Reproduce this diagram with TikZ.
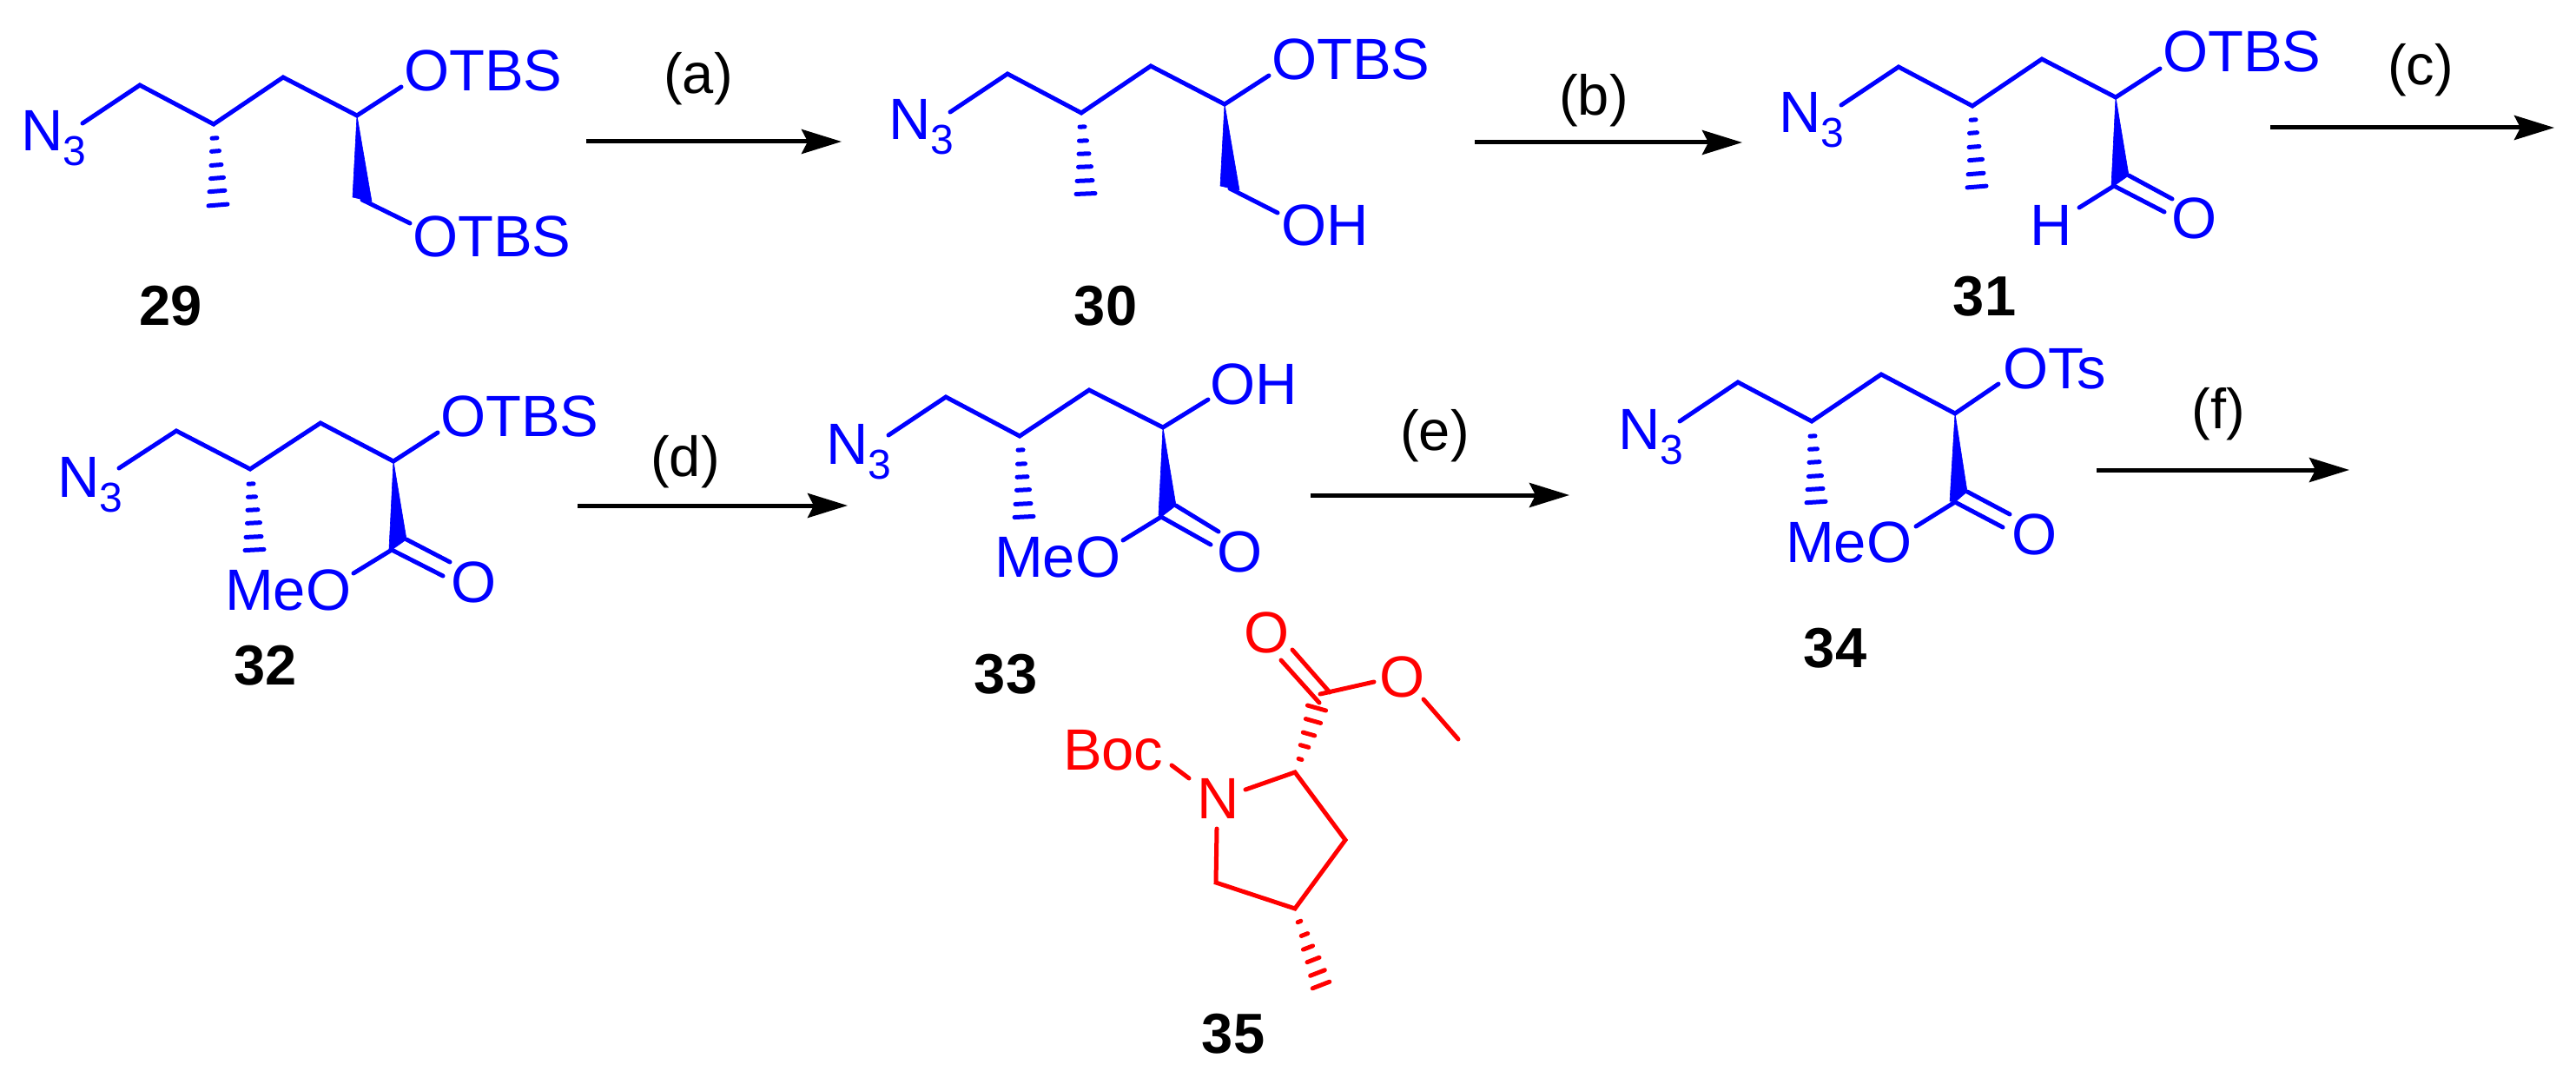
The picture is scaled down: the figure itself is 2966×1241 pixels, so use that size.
\documentclass[tikz,border=0pt]{standalone}
\usepackage{fontspec}
\setmainfont{Liberation Sans}
\usetikzlibrary{arrows.meta}
\definecolor{chemblue}{HTML}{0000FF}
\definecolor{chemred}{HTML}{FF0000}
\newcommand{\NthreeText}{N\raisebox{-17pt}{\fontsize{48}{48}\selectfont 3}}
\tikzset{
  x=1pt,y=-1pt,
  bond/.style={line width=5pt,line cap=round,line join=miter,miter limit=10},
  hashbar/.style={line width=5pt,line cap=round},
  wedgefill/.style={line width=0.6pt,line join=round},
  atom/.style={anchor=base west,inner sep=0pt,outer sep=0pt,font=\fontsize{67}{67}\selectfont},
  cmpd/.style={anchor=base,inner sep=0pt,outer sep=0pt,font=\bfseries\fontsize{65}{65}\selectfont,text=black},
  cond/.style={anchor=base,inner sep=0pt,outer sep=0pt,font=\fontsize{65}{65}\selectfont,text=black},
  rxn/.style={line width=5pt,black,-{Stealth[length=46pt,width=28pt,inset=7pt]}},
  blueset/.style={color=chemblue},
  redset/.style={color=chemred}
}
\begin{document}
\begin{tikzpicture}
\useasboundingbox (0,0) rectangle (2966,1241);

% ---------- 29 ----------
\begin{scope}[blueset]
\coordinate (a1) at (95,142); \coordinate (a2) at (161,98); \coordinate (a3) at (246,143);
\coordinate (a4) at (326,89); \coordinate (a5) at (411,133); \coordinate (a6) at (462,100);
\coordinate (a7) at (417,230); \coordinate (a8) at (472,257);
\coordinate (a9) at (406,227); \coordinate (a10) at (428,232);
\draw[bond] (a1)--(a2)--(a3)--(a4)--(a5)--(a6);
\draw[bond] (a7)--(a8);
\filldraw[wedgefill] (a5)--(a9)--(a10)--cycle;
\foreach \x/\y/\w in {247/159/3,248/174/4.5,249/190/6,250/205/7.5,250/220/9,251/236/11}
  \draw[hashbar] (\x-\w,\y+0.08*\w)--(\x+\w,\y-0.08*\w);
\node[atom,text=chemblue] (a-n3) at (24,174) {\NthreeText};
\node[atom,text=chemblue] (a-o1) at (465,105) {OTBS};
\node[atom,text=chemblue] (a-o2) at (475,296) {OTBS};
\end{scope}
\node[cmpd] (c29) at (197,374) {29};

% ---------- 30 ----------
\begin{scope}[blueset]
\coordinate (b1) at (1094,129); \coordinate (b2) at (1160,85); \coordinate (b3) at (1245,130);
\coordinate (b4) at (1325,76); \coordinate (b5) at (1410,120); \coordinate (b6) at (1461,87);
\coordinate (b7) at (1416,217); \coordinate (b8) at (1471,245);
\coordinate (b9) at (1405,214); \coordinate (b10) at (1427,219);
\draw[bond] (b1)--(b2)--(b3)--(b4)--(b5)--(b6);
\draw[bond] (b7)--(b8);
\filldraw[wedgefill] (b5)--(b9)--(b10)--cycle;
\foreach \x/\y/\w in {1246/146/3,1247/162/4.5,1248/177/6,1249/192/7.5,1249/208/9,1250/223/11}
  \draw[hashbar] (\x-\w,\y+0.04*\w)--(\x+\w,\y-0.04*\w);
\node[atom,text=chemblue] (b-n3) at (1023,161) {\NthreeText};
\node[atom,text=chemblue] (b-o1) at (1464,92) {OTBS};
\node[atom,text=chemblue] (b-o2) at (1475,283) {OH};
\end{scope}
\node[cmpd] (c30) at (1273,374) {30};

% ---------- 31 ----------
\begin{scope}[blueset]
\coordinate (d1) at (2120,121); \coordinate (d2) at (2186,77); \coordinate (d3) at (2271,122);
\coordinate (d4) at (2351,68); \coordinate (d5) at (2436,112); \coordinate (d6) at (2487,79);
\coordinate (d7) at (2434,214); \coordinate (d8) at (2394,239);
\coordinate (d9) at (2431,213); \coordinate (d10) at (2451,202);
\coordinate (d11) at (2492,244); \coordinate (d12) at (2501,229);
\draw[bond] (d1)--(d2)--(d3)--(d4)--(d5)--(d6);
\draw[bond] (d8)--(d7)--(d11);
\draw[bond] (d10)--(d12);
\filldraw[wedgefill] (d5)--(d9)--(d7)--(d10)--cycle;
\foreach \x/\y/\w in {2272/138/3,2272/153/4.5,2273/169/6,2275/184/7.5,2275/200/9,2276/215/11}
  \draw[hashbar] (\x-\w,\y+0.08*\w)--(\x+\w,\y-0.08*\w);
\node[atom,text=chemblue] (d-n3) at (2048,153) {\NthreeText};
\node[atom,text=chemblue] (d-o1) at (2490,83) {OTBS};
\node[atom,text=chemblue] (d-h) at (2337,283) {H};
\node[atom,text=chemblue] (d-o2) at (2500,275) {O};
\end{scope}
\node[cmpd] (c31) at (2285,363) {31};

% ---------- 32 ----------
\begin{scope}[blueset]
\coordinate (e1) at (137,539); \coordinate (e2) at (203,496); \coordinate (e3) at (288,540);
\coordinate (e4) at (369,487); \coordinate (e5) at (453,531); \coordinate (e6) at (504,498);
\coordinate (e7) at (451,633); \coordinate (e8) at (407,660);
\coordinate (e9) at (448,632); \coordinate (e10) at (468,621);
\coordinate (e11) at (510,663); \coordinate (e12) at (518,647);
\draw[bond] (e1)--(e2)--(e3)--(e4)--(e5)--(e6);
\draw[bond] (e8)--(e7)--(e11);
\draw[bond] (e10)--(e12);
\filldraw[wedgefill] (e5)--(e9)--(e7)--(e10)--cycle;
\foreach \x/\y/\w in {289/557/3,290/572/4.5,291/587/6,292/602/7.5,292/618/9,293/633/11}
  \draw[hashbar] (\x-\w,\y+0.05*\w)--(\x+\w,\y-0.05*\w);
\node[atom,text=chemblue] (e-n3) at (66,572) {\NthreeText};
\node[atom,text=chemblue] (e-o1) at (507,502) {OTBS};
\node[atom,text=chemblue] (e-meo) at (259,702) {MeO};
\node[atom,text=chemblue] (e-o2) at (519,693) {O};
\end{scope}
\node[cmpd] (c32) at (306,788) {32};

% ---------- 33 ----------
\begin{scope}[blueset]
\coordinate (f1) at (1023,501); \coordinate (f2) at (1089,457); \coordinate (f3) at (1174,502);
\coordinate (f4) at (1254,449); \coordinate (f5) at (1339,492); \coordinate (f6) at (1391,460);
\coordinate (f7) at (1337,595); \coordinate (f8) at (1293,622);
\coordinate (f9) at (1334,593); \coordinate (f10) at (1354,582);
\coordinate (f11) at (1394,627); \coordinate (f12) at (1403,612);
\draw[bond] (f1)--(f2)--(f3)--(f4)--(f5)--(f6);
\draw[bond] (f8)--(f7)--(f11);
\draw[bond] (f10)--(f12);
\filldraw[wedgefill] (f5)--(f9)--(f7)--(f10)--cycle;
\foreach \x/\y/\w in {1175/518/3,1176/534/4.5,1177/549/6,1178/564/7.5,1178/580/9,1179/595/11}
  \draw[hashbar] (\x-\w,\y+0.05*\w)--(\x+\w,\y-0.05*\w);
\node[atom,text=chemblue] (f-n3) at (951,534) {\NthreeText};
\node[atom,text=chemblue] (f-o1) at (1393,465) {OH};
\node[atom,text=chemblue] (f-meo) at (1145,664) {MeO};
\node[atom,text=chemblue] (f-o2) at (1401,658) {O};
\end{scope}
\node[cmpd] (c33) at (1158,798) {33};

% ---------- 34 ----------
\begin{scope}[blueset]
\coordinate (g1) at (1934,485); \coordinate (g2) at (2001,440); \coordinate (g3) at (2086,485);
\coordinate (g4) at (2166,431); \coordinate (g5) at (2251,476); \coordinate (g6) at (2301,442);
\coordinate (g7) at (2251,578); \coordinate (g8) at (2206,606);
\coordinate (g9) at (2245,577); \coordinate (g10) at (2265,566);
\coordinate (g11) at (2306,607); \coordinate (g12) at (2314,592);
\draw[bond] (g1)--(g2)--(g3)--(g4)--(g5)--(g6);
\draw[bond] (g8)--(g7)--(g11);
\draw[bond] (g10)--(g12);
\filldraw[wedgefill] (g5)--(g9)--(g7)--(g10)--cycle;
\foreach \x/\y/\w in {2087/502/3,2088/517/4.5,2089/532/6,2090/548/7.5,2090/563/9,2091/578/11}
  \draw[hashbar] (\x-\w,\y+0.06*\w)--(\x+\w,\y-0.06*\w);
\node[atom,text=chemblue] (g-n3) at (1863,517) {\NthreeText};
\node[atom,text=chemblue] (g-o1) at (2306,447) {OTs};
\node[atom,text=chemblue] (g-meo) at (2056,647) {MeO};
\node[atom,text=chemblue] (g-o2) at (2316,638) {O};
\end{scope}
\node[cmpd] (c34) at (2113,768) {34};

% ---------- 35 ----------
\begin{scope}[redset]
\coordinate (h1) at (1349,881); \coordinate (h2) at (1369,896);
\coordinate (h3) at (1434,909); \coordinate (h4) at (1491,889); \coordinate (h5) at (1549,967);
\coordinate (h6) at (1491,1046); \coordinate (h7) at (1400,1016); \coordinate (h8) at (1401,954);
\coordinate (h9) at (1519,809); \coordinate (h10) at (1475,760);
\coordinate (h11) at (1531,797); \coordinate (h12) at (1488,748);
\coordinate (h13) at (1520,799); \coordinate (h14) at (1582,785);
\coordinate (h15) at (1639,805); \coordinate (h16) at (1679,851);
\draw[bond] (h1)--(h2);
\draw[bond] (h3)--(h4)--(h5)--(h6)--(h7)--(h8);
\draw[bond] (h9)--(h10);
\draw[bond] (h11)--(h12);
\draw[bond] (h13)--(h14);
\draw[bond] (h15)--(h16);
\foreach \x/\y/\w in {1497/874/2,1502/859/5,1507/845/7,1512/830/9,1516/815/11}
  \draw[hashbar] (\x-0.96*\w,\y-0.27*\w)--(\x+0.96*\w,\y+0.27*\w);
\foreach \x/\y/\w in {1496/1061/2,1502/1076/4,1506/1091/6,1512/1105/7.5,1517/1120/9,1521/1134/10.5}
  \draw[hashbar] (\x-0.93*\w,\y+0.36*\w)--(\x+0.93*\w,\y-0.36*\w);
\node[atom,text=chemred] (h-boc) at (1224,886) {Boc};
\node[atom,text=chemred] (h-n) at (1378,942) {N};
\node[atom,text=chemred] (h-o1) at (1432,751) {O};
\node[atom,text=chemred] (h-o2) at (1588,802) {O};
\end{scope}
\node[cmpd] (c35) at (1420,1212) {35};

% ---------- arrows ----------
\coordinate (ra1) at (675,163); \coordinate (ra2) at (969,163);
\coordinate (rb1) at (1698,164); \coordinate (rb2) at (2006,164);
\coordinate (rc1) at (2614,147); \coordinate (rc2) at (2941,147);
\coordinate (rd1) at (665,582); \coordinate (rd2) at (976,582);
\coordinate (re1) at (1509,570); \coordinate (re2) at (1807,570);
\coordinate (rf1) at (2414,541); \coordinate (rf2) at (2705,541);
\draw[rxn] (ra1)--(ra2);
\draw[rxn] (rb1)--(rb2);
\draw[rxn] (rc1)--(rc2);
\draw[rxn] (rd1)--(rd2);
\draw[rxn] (re1)--(re2);
\draw[rxn] (rf1)--(rf2);
\node[cond] (la) at (804,108) {(a)};
\node[cond] (lb) at (1835,133) {(b)};
\node[cond] (lc) at (2787,98) {(c)};
\node[cond] (ld) at (789,548) {(d)};
\node[cond] (le) at (1652,518) {(e)};
\node[cond] (lf) at (2554,493) {(f)};
\end{tikzpicture}
\end{document}
